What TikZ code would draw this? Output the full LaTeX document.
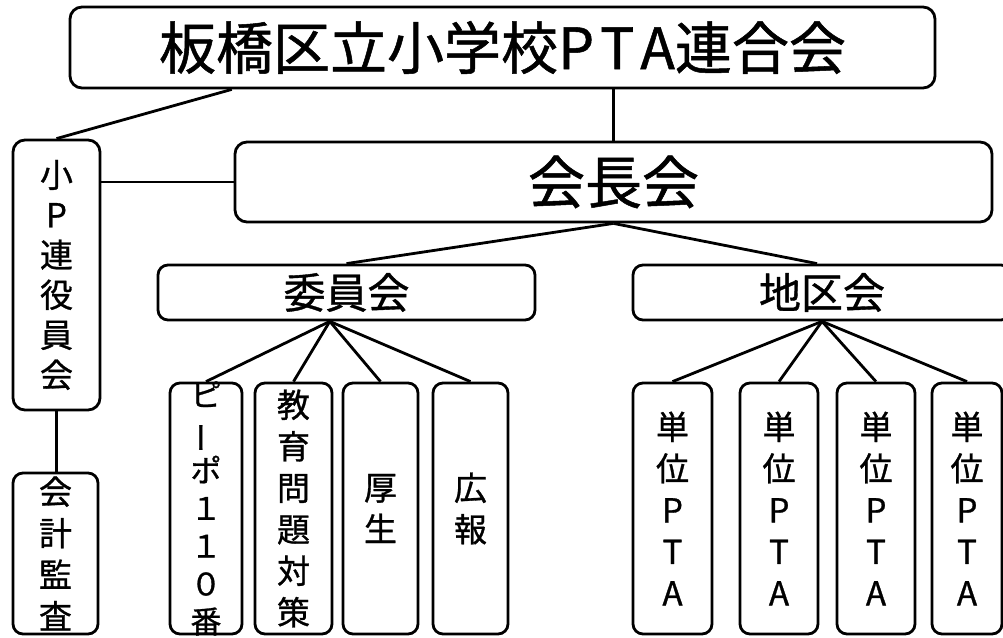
\documentclass[tikz,border=0pt]{standalone}
\usepackage{fontspec}
\setmainfont{Noto Sans CJK JP}[FakeBold=0.9]
\usetikzlibrary{calc}
\tikzset{
  bx/.style={draw=black, line width=2.8pt, rounded corners=12pt, inner sep=0pt},
  sbx/.style={draw=black, line width=2.8pt, rounded corners=10pt, inner sep=0pt, minimum height=251pt},
  ln/.style={line width=2.8pt},
  big/.style={font=\fontsize{57}{60}\selectfont},
  mid/.style={font=\fontsize{42}{44}\selectfont},
  vt/.style={font=\fontsize{33}{41.5}\selectfont, align=center},
  vtn/.style={font=\fontsize{31}{37.8}\selectfont, align=center, inner sep=0pt},
}
\begin{document}
\begin{tikzpicture}[x=1pt,y=-1pt]
\useasboundingbox (0,0) rectangle (1003,637);
\clip (0,0) rectangle (1003,637);
\fill[white] (0,0) rectangle (1003,637);

% main boxes
\node[bx, big, minimum width=865pt, minimum height=81pt] (top) at (502.5,47.5) {板橋区立小学校P\hspace{6pt}T\hspace{6pt}A連合会};
\node[bx, big, minimum width=757pt, minimum height=80pt] (kaicho) at (613.5,182) {会長会};
\node[bx, vt, font=\fontsize{33}{40}\selectfont, minimum width=87pt, minimum height=270pt] (shoP) at (56.5,275) {小\\P\\連\\役\\員\\会};
\node[bx, vt, minimum width=85pt, minimum height=161pt, rounded corners=10pt] (kaikei) at (55.5,553.5) {会\\計\\監\\査};
\node[bx, mid, minimum width=377pt, minimum height=55pt, rounded corners=10pt] (iin) at (346.5,292.5) {委員会};
\node[bx, mid, minimum width=378pt, minimum height=55pt, rounded corners=10pt] (chiku) at (822,292.5) {地区会};

% committee boxes
\node[sbx, minimum width=72pt, label={[vtn]center:ピ\\\rotatebox[origin=c]{90}{ー}\\ポ\\１\\１\\０\\番}] (p110) at (206,508.5) {};
\node[sbx, vt, minimum width=77pt] (kyoiku) at (293.5,508.5) {教\\育\\問\\題\\対\\策};
\node[sbx, vt, minimum width=75pt] (kosei) at (380.5,508.5) {厚\\生};
\node[sbx, vt, minimum width=75pt] (koho) at (470.5,508.5) {広\\報};

% unit PTA boxes
\node[sbx, vt, minimum width=79pt] (tan1) at (672.5,508.5) {単\\位\\P\\T\\A};
\node[sbx, vt, minimum width=78pt] (tan2) at (779,508.5) {単\\位\\P\\T\\A};
\node[sbx, vt, minimum width=78pt] (tan3) at (876,508.5) {単\\位\\P\\T\\A};
\node[sbx, vt, minimum width=70pt] (tan4) at (967,508.5) {単\\位\\P\\T\\A};

% connectors
\draw[ln] ($(top.south west)!0.188!(top.south east)$) -- (shoP.north);
\draw[ln] (kaicho.north |- top.south) -- (kaicho.north);
\draw[ln] (shoP.east |- kaicho.west) -- (kaicho.west);
\draw[ln] (shoP.south) -- (shoP.south |- kaikei.north);
\draw[ln] (kaicho.south) -- (iin.north);
\draw[ln] (kaicho.south) -- ($(chiku.north)+(-5,0)$);
\coordinate (ij) at ($(iin.south west)!0.456!(iin.south east)$);
\foreach \n in {p110,kyoiku,kosei,koho} \draw[ln] (ij) -- (\n.north);
\foreach \n in {tan1,tan2,tan3,tan4} \draw[ln] (chiku.south) -- (\n.north);
\end{tikzpicture}
\end{document}
